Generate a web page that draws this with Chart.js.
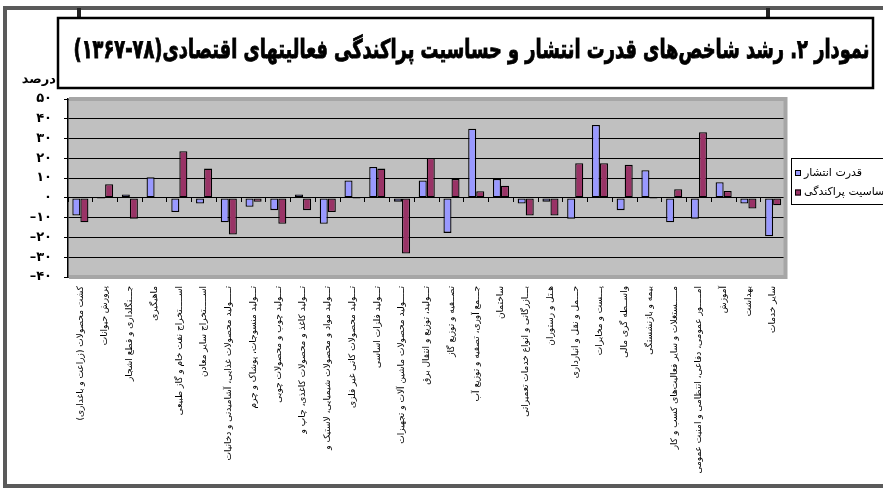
<!DOCTYPE html>
<html lang="fa">
<head>
<meta charset="utf-8">
<script src="https://cdn.jsdelivr.net/npm/chart.js@4/dist/chart.umd.min.js"></script>
<style>
html,body{margin:0;padding:0;background:#fff;overflow:hidden;}
canvas{display:block;}
</style>
</head>
<body>
<canvas id="c" dir="rtl" width="883" height="488"></canvas>
<script>
const categories = [
  'کشت محصولات (زراعت و باغداری)',
  'پرورش حیوانات',
  'جـــنگلداری و قطع اشجار',
  'ماهیگیری',
  'اســـــتخراج نفت خام و گاز طبیعی',
  'اســـــتخراج سایر معادن',
  'تـــــولید محصولات غذایی، آشامیدنی و دخانیات',
  'تـــولید منسوجات، پوشاک و چرم',
  'تـــولید چوب و محصولات چوبی',
  'تـــولید کاغذ و محصولات کاغذی، چاپ و',
  'تـــولید مواد و محصولات شیمیایی، لاستیک و',
  'تـــولید محصولات کانی غیر فلزی',
  'تـــولید فلزات اساسی',
  'تـــــولید محصولات ماشین آلات و تجهیزات',
  'تـــولید، توزیع و انتقال برق',
  'تصــفیه و توزیع گاز',
  'جـــمع آوری، تصفیه و توزیع آب',
  'ساختمان',
  'بـــازرگانی و انواع خدمات تعمیراتی',
  'هـتل و رستوران',
  'حـــمل و نقل و انبارداری',
  'پـــست و مخابرات',
  'واســطه گری مالی',
  'بیمه و بازنشستگی',
  'مـــــستغلات و سایر فعالیت‌های کسب و کار',
  'امـــــور عمومی، دفاعی، انتظامی و امنیت عمومی',
  'آموزش',
  'بهداشت',
  'سایر خدمات'
];
const spreadPower = [-8.9, -0.6, 1.7, 10.4, -7.1, -2.9, -12.3, -4.5, -6.2, 1.7, -13.1, 8.8, 15.6, -1.9, 8.8, -17.7, 35.0, 9.6, -2.9, -1.9, -10.6, 36.9, -6.2, 14.0, -12.3, -10.6, 7.9, -2.9, -19.4];
const dispersionSensitivity = [-12.3, 6.9, -10.6, 0, 23.6, 14.8, -18.5, -2.0, -13.1, -6.2, -7.1, -0.5, 14.8, -28.1, 20.2, 9.6, 3.4, 6.1, -8.9, -8.9, 17.5, 17.5, 16.7, -0.5, 4.4, 33.2, 3.5, -5.4, -3.7];
const seriesNames = ['قدرت انتشار', 'حساسیت پراکندگی'];
const yTicks = [-40, -30, -20, -10, 0, 10, 20, 30, 40, 50];
const titleText = 'نمودار ۲. رشد شاخص‌های قدرت انتشار و حساسیت پراکندگی فعالیتهای اقتصادی(۷۸-۱۳۶۷)';
const yAxisTitle = 'درصد';

const faDigits = '۰۱۲۳۴۵۶۷۸۹';
function toFa(n) {
  const s = String(Math.abs(n)).replace(/\d/g, d => faDigits[d]);
  return n < 0 ? '\u2066\u2013' + s + '\u2069' : s;
}

const decor = {
  id: 'decor',
  beforeDraw(chart) {
    const {ctx, chartArea: a, width, height} = chart;
    ctx.save();
    ctx.fillStyle = '#fff';
    ctx.fillRect(0, 0, width, height);
    ctx.strokeStyle = '#5a5a5a';
    ctx.lineWidth = 4;
    ctx.strokeRect(5, 8, width + 20, 478);
    ctx.fillStyle = '#222';
    ctx.fillRect(77, 8, 4, 10);
    ctx.fillRect(766, 8, 4, 10);
    ctx.fillStyle = '#fff';
    ctx.fillRect(57, 17, 817, 72);
    ctx.lineWidth = 2.5;
    ctx.strokeStyle = '#000';
    ctx.strokeRect(58, 18, 815, 70);
    // title, horizontally condensed to fit the box like the original heavy font
    ctx.fillStyle = '#000';
    ctx.strokeStyle = '#000';
    ctx.font = 'bold 26px "DejaVu Sans"';
    ctx.textAlign = 'center';
    ctx.textBaseline = 'middle';
    const tw = ctx.measureText(titleText).width;
    const sx = Math.min(1, 796 / tw);
    ctx.save();
    ctx.translate(471.5, 51);
    ctx.scale(sx, 1);
    ctx.lineWidth = 0.9;
    ctx.fillText(titleText, 0, 0);
    ctx.strokeText(titleText, 0, 0);
    ctx.restore();
    ctx.font = 'bold 13px "DejaVu Sans"';
    ctx.textAlign = 'right';
    ctx.fillText(yAxisTitle, 56, 80);
    ctx.fillStyle = '#c0c0c0';
    ctx.fillRect(a.left, a.top, a.width, a.height);
    ctx.restore();
  },
  beforeDatasetsDraw(chart) {
    const {ctx, chartArea: a} = chart;
    ctx.save();
    ctx.strokeStyle = '#a6a6a6';
    ctx.lineWidth = 4;
    ctx.beginPath();
    ctx.moveTo(a.left + 1, a.top);
    ctx.lineTo(a.right, a.top);
    ctx.lineTo(a.right, a.bottom);
    ctx.lineTo(a.left + 1, a.bottom);
    ctx.stroke();
    ctx.restore();
  },
  afterDraw(chart) {
    const {ctx} = chart;
    ctx.save();
    const x0 = 791.5, y0 = 158.5;
    ctx.fillStyle = '#fff';
    ctx.fillRect(x0, y0, 200, 46);
    ctx.strokeStyle = '#000';
    ctx.lineWidth = 1;
    ctx.strokeRect(x0, y0, 200, 46);
    ctx.font = '11px "DejaVu Sans"';
    ctx.textAlign = 'left';
    ctx.textBaseline = 'middle';
    chart.data.datasets.forEach((ds, i) => {
      const cy = 173 + i * 19.5;
      ctx.fillStyle = ds.backgroundColor;
      ctx.fillRect(795, cy - 3, 6, 6);
      ctx.strokeStyle = '#000';
      ctx.strokeRect(795.5, cy - 2.5, 5, 5);
      ctx.fillStyle = '#000';
      ctx.fillText(ds.label, 804, cy);
    });
    ctx.restore();
  }
};

new Chart(document.getElementById('c'), {
  type: 'bar',
  data: {
    labels: categories,
    datasets: [
      { label: seriesNames[0], data: spreadPower, backgroundColor: '#9999ff', borderColor: '#000', borderWidth: 1.3, borderSkipped: false },
      { label: seriesNames[1], data: dispersionSensitivity, backgroundColor: '#993366', borderColor: '#000', borderWidth: 1.3, borderSkipped: false }
    ]
  },
  options: {
    responsive: false,
    animation: false,
    devicePixelRatio: 1,
    layout: { padding: { top: 99, left: 0, right: 97.5, bottom: 0 } },
    datasets: { bar: { categoryPercentage: 0.65, barPercentage: 1.0 } },
    plugins: { legend: { display: false }, title: { display: false }, tooltip: { enabled: false } },
    scales: {
      x: {
        type: 'category',
        position: 'bottom',
        offset: true,
        grid: { display: false },
        border: { display: false },
        ticks: {
          autoSkip: false, minRotation: 90, maxRotation: 90, padding: 1,
          color: '#000', font: { family: 'DejaVu Sans', size: 9 }
        },
        afterFit(axis) { axis.height = 211; }
      },
      x2: {
        type: 'category',
        position: { y: 0 },
        offset: true,
        grid: { offset: true, drawOnChartArea: false, drawTicks: true, tickLength: 4, color: '#000', lineWidth: 1 },
        border: { display: true, color: '#000', width: 1 },
        ticks: { display: false }
      },
      y: {
        min: -40, max: 50,
        afterBuildTicks(axis) { axis.ticks = yTicks.map(v => ({ value: v })); },
        grid: { color: '#000', lineWidth: 1, drawTicks: true, tickLength: 4, tickColor: '#000' },
        border: { display: true, color: '#000', width: 1.5 },
        ticks: {
          padding: 12, color: '#000',
          font: { family: 'DejaVu Sans', size: 13, weight: 'bold' },
          callback: v => toFa(v)
        },
        afterFit(axis) { axis.width = 68; }
      }
    }
  },
  plugins: [decor]
});
</script>
</body>
</html>
